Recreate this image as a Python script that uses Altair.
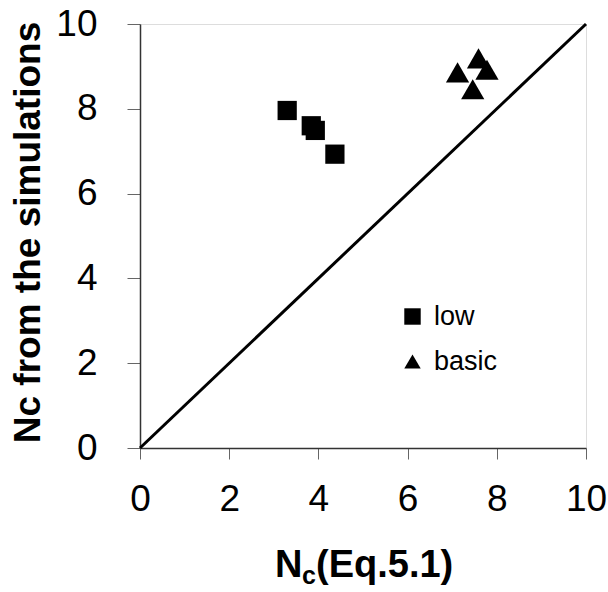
import altair as alt
import pandas as pd

# Data
low_x = [3.30, 3.84, 3.93, 4.37]
low_y = [7.96, 7.60, 7.49, 6.93]
basic_x = [7.12, 7.59, 7.78, 7.46]
basic_y = [8.86, 9.19, 8.92, 8.46]
series_names = ["low", "basic"]
line_x = [0, 10]
line_y = [0, 10]
tick_values = [0, 2, 4, 6, 8, 10]
y_title = "Nc from the simulations"
x_title_parts = ["N", "c", "(Eq.5.1)"]

FONT = "Liberation Sans"

low_df = pd.DataFrame({"x": low_x, "y": low_y, "series": series_names[0]})
basic_df = pd.DataFrame({"x": basic_x, "y": basic_y, "series": series_names[1]})
line_df = pd.DataFrame({"x": line_x, "y": line_y})

xscale = alt.Scale(domain=[0, 10], nice=False, zero=False)
yscale = alt.Scale(domain=[0, 10], nice=False, zero=False)

x_axis = alt.Axis(values=tick_values, tickSize=11, labelPadding=22, labelFontSize=37,
                  labelFont=FONT, labelColor="black", labelFlush=False, grid=False,
                  domainColor="#333333", domainWidth=1.5, tickColor="#666666", tickWidth=1)
y_axis = alt.Axis(values=tick_values, tickSize=13, labelPadding=30, labelFontSize=37,
                  labelFont=FONT, labelColor="black", labelFlush=False, grid=False,
                  domainColor="#333333", domainWidth=1.5, tickColor="#666666", tickWidth=1,
                  titleFont=FONT, titleFontSize=37, titleFontWeight="bold", titleColor="black",
                  titleAngle=-90, titleX=-112, titleY=208, titleAlign="center",
                  titleBaseline="middle")

shape_scale = alt.Scale(domain=series_names, range=["square", "triangle-up"])
legend = alt.Legend(orient="none", legendX=259, legendY=279, title=None,
                    labelFontSize=27, labelFont=FONT, labelColor="black",
                    symbolSize=270, rowPadding=17, labelOffset=8, padding=0,
                    symbolFillColor="black", symbolStrokeColor="black", symbolStrokeWidth=0)

line = alt.Chart(line_df).mark_line(color="black", strokeWidth=3).encode(
    x=alt.X("x:Q", scale=xscale, axis=x_axis, title=""),
    y=alt.Y("y:Q", scale=yscale, axis=y_axis, title=y_title),
)

low = alt.Chart(low_df).mark_point(filled=True, color="black", opacity=1, size=370, strokeWidth=0).encode(
    x=alt.X("x:Q", scale=xscale),
    y=alt.Y("y:Q", scale=yscale),
    shape=alt.Shape("series:N", scale=shape_scale, legend=legend),
)

basic = alt.Chart(basic_df).mark_point(filled=True, color="black", opacity=1, size=540, strokeWidth=0).encode(
    x=alt.X("x:Q", scale=xscale),
    y=alt.Y("y:Q", scale=yscale),
    shape=alt.Shape("series:N", scale=shape_scale, legend=legend),
)

title_df = pd.DataFrame({"t": [0]})
t_n = alt.Chart(title_df).mark_text(text=x_title_parts[0], font=FONT, fontSize=38, fontWeight="bold",
                                    align="left", baseline="alphabetic", color="black").encode(
    x=alt.value(135), y=alt.value(553))
t_c = alt.Chart(title_df).mark_text(text=x_title_parts[1], font=FONT, fontSize=25, fontWeight="bold",
                                    align="left", baseline="alphabetic", color="black").encode(
    x=alt.value(162), y=alt.value(560))
t_rest = alt.Chart(title_df).mark_text(text=x_title_parts[2], font=FONT, fontSize=38, fontWeight="bold",
                                       align="left", baseline="alphabetic", color="black").encode(
    x=alt.value(176), y=alt.value(553))

chart = alt.layer(line, low, basic, t_n, t_c, t_rest).properties(
    width=446, height=424,
    autosize=alt.AutoSizeParams(type="none"),
    padding={"left": 140, "top": 24, "right": 22, "bottom": 144},
).configure_view(stroke="#808080", strokeWidth=1).configure(background="white")

chart.save("out.html", embed_options={"renderer": "svg", "actions": False})
